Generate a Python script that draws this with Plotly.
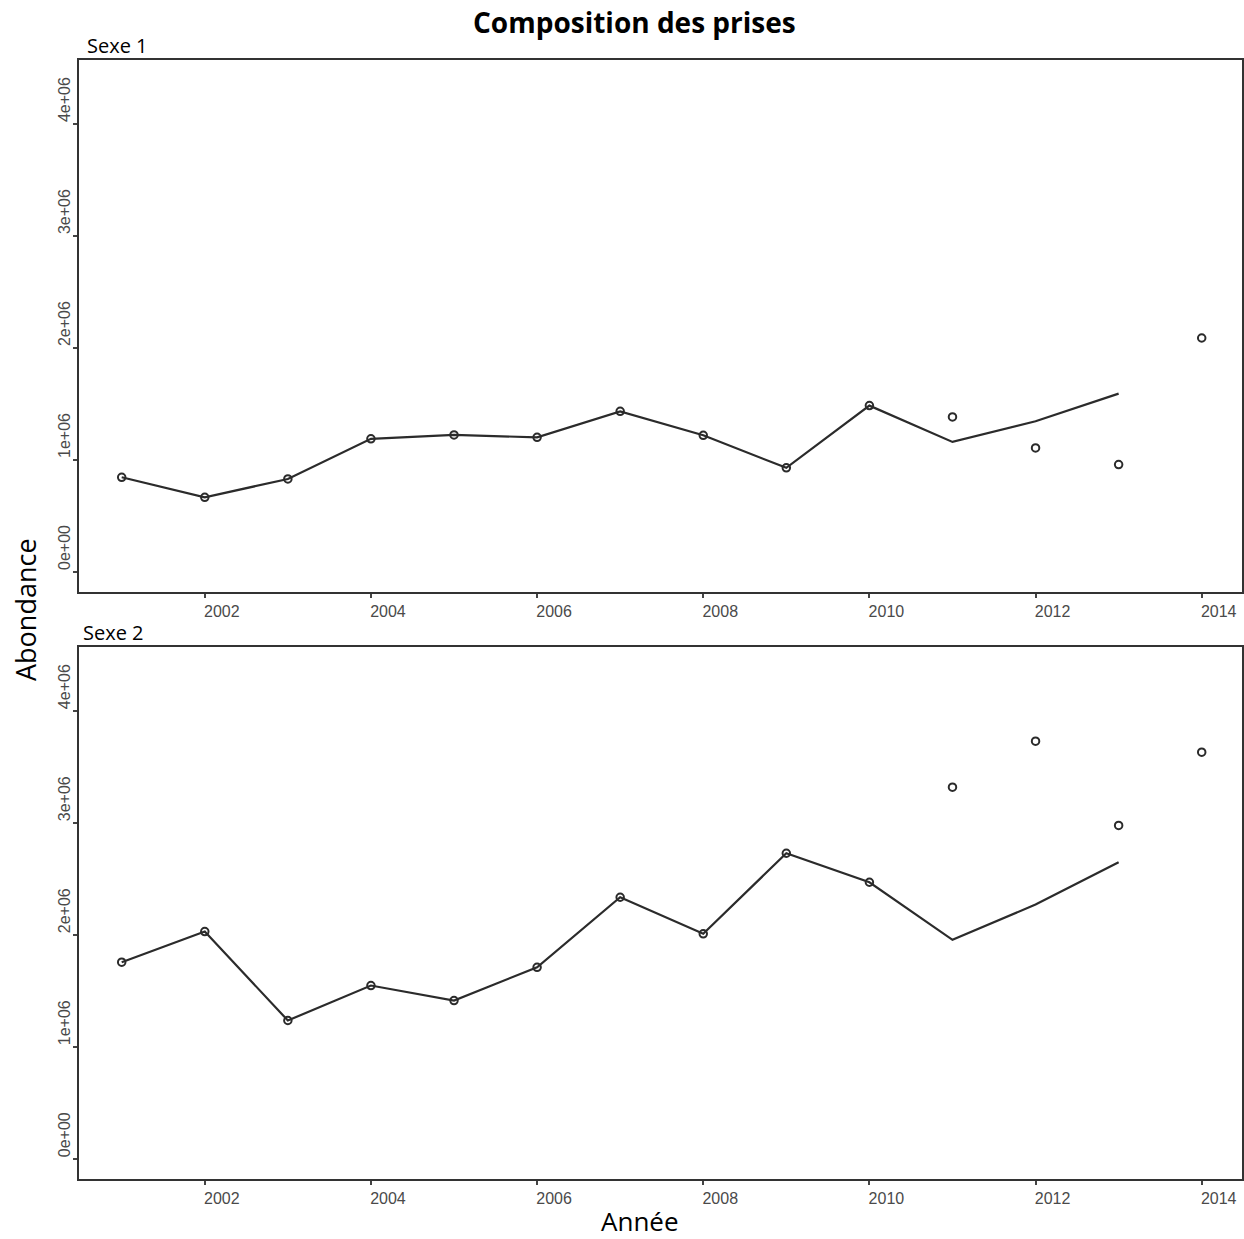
import plotly.graph_objects as go
from plotly.subplots import make_subplots

years = [2001, 2002, 2003, 2004, 2005, 2006, 2007, 2008, 2009, 2010, 2011, 2012, 2013, 2014]
fit_years = [2001, 2002, 2003, 2004, 2005, 2006, 2007, 2008, 2009, 2010, 2011, 2012, 2013]

# Sexe 1 (abondance)
obs_sexe1 = [0.845e6, 0.666e6, 0.830e6, 1.188e6, 1.223e6, 1.202e6, 1.434e6, 1.220e6, 0.929e6, 1.485e6,
             1.384e6, 1.107e6, 0.958e6, 2.089e6]
fit_sexe1 = [0.845e6, 0.666e6, 0.830e6, 1.188e6, 1.223e6, 1.202e6, 1.434e6, 1.220e6, 0.929e6, 1.485e6,
             1.161e6, 1.345e6, 1.592e6]

# Sexe 2 (abondance)
obs_sexe2 = [1.758e6, 2.032e6, 1.238e6, 1.550e6, 1.416e6, 1.713e6, 2.338e6, 2.012e6, 2.731e6, 2.472e6,
             3.321e6, 3.731e6, 2.979e6, 3.633e6]
fit_sexe2 = [1.758e6, 2.032e6, 1.238e6, 1.550e6, 1.416e6, 1.713e6, 2.338e6, 2.012e6, 2.731e6, 2.472e6,
             1.958e6, 2.273e6, 2.651e6]

y_tickvals = [0, 1e6, 2e6, 3e6, 4e6]
y_ticktext = ["0e+00", "1e+06", "2e+06", "3e+06", "4e+06"]
x_tickvals = [2002, 2004, 2006, 2008, 2010, 2012, 2014]

W, H = 1244, 1239
mt, mb, ml, mr = 60, 60, 79, 2
ph = H - mt - mb
pw = W - ml - mr

def py(px):
    return (H - mb - px) / ph

def pxx(px):
    return (px - ml) / pw

fig = make_subplots(rows=2, cols=1, shared_xaxes=False, vertical_spacing=0.05)

line_col = "#2b2b2b"
panels = [(obs_sexe1, fit_sexe1), (obs_sexe2, fit_sexe2)]
for i, (obs, fit) in enumerate(panels, start=1):
    fig.add_trace(go.Scatter(x=fit_years, y=fit, mode="lines",
                             line=dict(color=line_col, width=2.2), showlegend=False), row=i, col=1)
    fig.add_trace(go.Scatter(x=years, y=obs, mode="markers",
                             marker=dict(symbol="circle-open", size=7.5, color=line_col,
                                         line=dict(width=2, color=line_col)),
                             showlegend=False), row=i, col=1)

axis_common = dict(showline=True, linecolor="#333333", linewidth=2, mirror=True,
                   showgrid=False, zeroline=False, ticks="outside", ticklen=4,
                   tickwidth=2, tickcolor="#444444", automargin=False,
                   tickfont=dict(family="Liberation Sans, Arial", size=16, color="#4a4a4a"))

for i in (1, 2):
    fig.update_xaxes(range=[2000.486, 2014.485], tickvals=x_tickvals, ticklabelshift=17,
                     **axis_common, row=i, col=1)
    fig.update_yaxes(range=[-0.177e6, 4.572e6], tickvals=y_tickvals, ticktext=y_ticktext,
                     tickangle=-90, ticklabelshift=-22, ticklabelstandoff=-3,
                     **axis_common, row=i, col=1)

fig.update_layout(
    yaxis=dict(domain=[py(591.7), 1.0]),
    yaxis2=dict(domain=[0.0, py(647)]),
    width=W, height=H,
    margin=dict(l=ml, r=mr, t=mt, b=mb, autoexpand=False),
    paper_bgcolor="white", plot_bgcolor="white",
)

ann_font = dict(family="Open Sans", color="black")
fig.add_annotation(text="<b>Composition des prises</b>", xref="paper", yref="paper",
                   x=pxx(634), y=py(22), xanchor="center", yanchor="middle", showarrow=False,
                   font=dict(size=28, **ann_font))
fig.add_annotation(text="Sexe 1", xref="paper", yref="paper", x=pxx(85),
                   y=py(46), xanchor="left", yanchor="middle", showarrow=False,
                   font=dict(size=20, **ann_font))
fig.add_annotation(text="Sexe 2", xref="paper", yref="paper", x=pxx(81),
                   y=py(632), xanchor="left", yanchor="middle", showarrow=False,
                   font=dict(size=20, **ann_font))
fig.add_annotation(text="Abondance", xref="paper", yref="paper", x=pxx(25),
                   y=py(610), xanchor="center", yanchor="middle", textangle=-90, showarrow=False,
                   font=dict(size=27, **ann_font))
fig.add_annotation(text="Année", xref="paper", yref="paper", x=pxx(640),
                   y=py(1221), xanchor="center", yanchor="middle", showarrow=False,
                   font=dict(size=26, **ann_font))

fig.write_html(
    "out.html",
    config={"displayModeBar": False},
    post_script="document.body.style.margin='0';document.body.style.overflow='hidden';",
)
